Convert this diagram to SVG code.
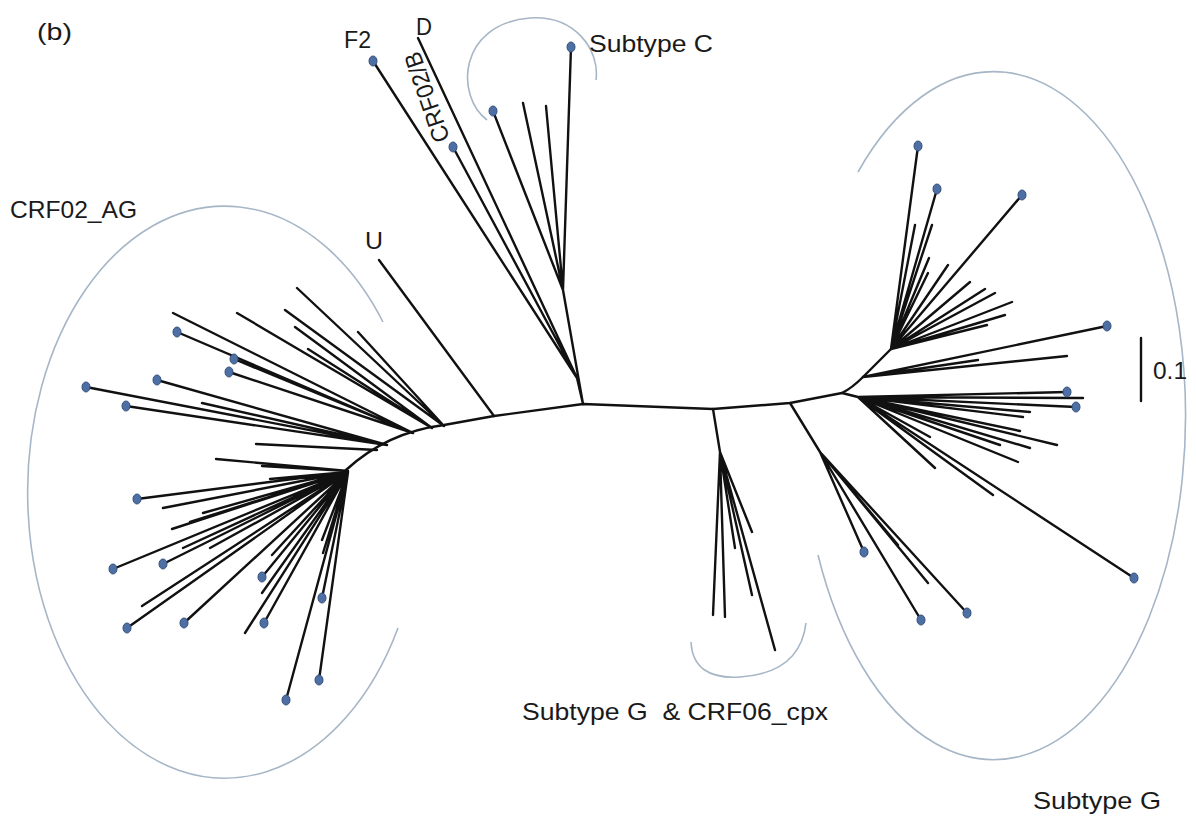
<svg xmlns="http://www.w3.org/2000/svg" width="1196" height="818" viewBox="0 0 1196 818">
<style>
.br{stroke:#111;stroke-width:2.4;fill:none;stroke-linecap:round;stroke-linejoin:round}
.tip{fill:#4d6fa3;stroke:#35507c;stroke-width:1}
.arc{fill:none;stroke:#a6b6c6;stroke-width:1.6}
text{font-family:"Liberation Sans",Arial,sans-serif;font-size:24px;fill:#1a1a1a}
</style>
<rect width="1196" height="818" fill="#fff"/>

<g id="clade-arcs">
  <path class="arc" d="M383 322 A197 286 0 1 0 398 628"/>
  <path class="arc" d="M487 120 C455 96 458 24 530 18 C575 15 600 50 596 80"/>
  <path class="arc" d="M858 172 A192 344 0 1 1 818 555"/>
  <path class="arc" d="M691 642 Q693 680 740 677 Q800 673 806 623"/>
</g>

<g id="connectors">
  <path class="br" d="M346 470 C372 446 405 430 444 425 L494 416 L583 404 L713 409 L790 403 L842 393 Q852 388 863 377 L891 349"/>
  <!-- top cluster: F2, CRF02/B, D, subtype C -->
  <path class="br" d="M583 404 L577 378 M373 61 L577 378 M453 147 L577 378 M418 38 L577 378 M583 404 L563 290 M571 47 L563 290 M546 106 L563 290 M523 103 L563 290 M493 111 L563 290"/>
  <!-- U -->
  <path class="br" d="M379 260 L494 416"/>
  <!-- CRF02_AG upper fan -->
  <path class="br" d="M297 288 L444 426 M285 310 L444 426 M358 332 L444 426 M237 313 L432 428 M295 327 L432 428 M308 349 L432 428 M173 313 L413 433 M177 332 L413 433 M234 359 L413 433 M229 372 L413 433 M86 387 L387 445 M157 380 L387 445 M126 406 L387 445 M202 403 L387 445 M256 444 L377 450 M216 459 L348 471 M262 466 L348 471"/>
  <!-- CRF02_AG lower fan -->
  <path class="br" d="M137 499 L348 472 M163 508 L348 472 M270 479 L348 472 M203 513 L348 472 M172 529 L348 472 M190 522 L348 472 M113 569 L348 472 M163 564 L348 472 M183 548 L348 472 M210 548 L348 472 M142 606 L348 472 M127 628 L348 472 M184 623 L348 472 M272 555 L348 472 M262 577 L348 472 M262 593 L348 472 M245 633 L348 472 M264 623 L348 472 M322 598 L348 472 M323 553 L348 472 M322 540 L348 472 M319 680 L348 472 M286 700 L348 472"/>
  <!-- subtype G top-right fan -->
  <path class="br" d="M918 146 L891 349 M937 189 L891 349 M1022 195 L891 349 M915 225 L891 349 M932 225 L891 349 M929 258 L891 349 M928 273 L891 349 M948 265 L891 349 M970 282 L891 349 M985 289 L891 349 M995 293 L891 349 M1012 302 L891 349 M1005 315 L891 349 M987 325 L891 349 M1107 326 L863 377 M1067 356 L863 377 M978 360 L863 377"/>
  <!-- subtype G lower-right fan -->
  <path class="br" d="M842 393 L858 397 M1067 392 L858 397 M1076 407 L858 397 M1083 398 L858 397 M1030 412 L858 397 M1023 417 L858 397 M1020 431 L858 397 M1057 445 L858 397 M1030 448 L858 397 M1018 462 L858 397 M1000 445 L858 397 M993 495 L858 397 M935 468 L858 397 M930 437 L858 397 M1134 578 L858 397"/>
  <!-- subtype G lower-middle fan -->
  <path class="br" d="M790 403 L820 452 M864 552 L820 452 M921 620 L820 452 M967 613 L820 452 M928 583 L820 452 M898 545 L835 470"/>
  <!-- subtype G & CRF06_cpx fan -->
  <path class="br" d="M713 409 L720 452 M713 615 L720 452 M725 617 L720 452 M735 548 L720 452 M752 532 L720 452 M752 595 L720 452 M775 650 L720 452"/>
  <!-- scale bar -->
  <path class="br" d="M1141 338 L1141 401" stroke-width="1.8"/>
</g>

<g id="tips">
  <ellipse class="tip" cx="373" cy="61" rx="4" ry="5"/>
  <ellipse class="tip" cx="453" cy="147" rx="4" ry="5"/>
  <ellipse class="tip" cx="571" cy="47" rx="4" ry="5"/>
  <ellipse class="tip" cx="493" cy="111" rx="4" ry="5"/>
  <ellipse class="tip" cx="177" cy="332" rx="4" ry="5"/>
  <ellipse class="tip" cx="234" cy="359" rx="4" ry="5"/>
  <ellipse class="tip" cx="229" cy="372" rx="4" ry="5"/>
  <ellipse class="tip" cx="86" cy="387" rx="4" ry="5"/>
  <ellipse class="tip" cx="157" cy="380" rx="4" ry="5"/>
  <ellipse class="tip" cx="126" cy="406" rx="4" ry="5"/>
  <ellipse class="tip" cx="137" cy="499" rx="4" ry="5"/>
  <ellipse class="tip" cx="113" cy="569" rx="4" ry="5"/>
  <ellipse class="tip" cx="163" cy="564" rx="4" ry="5"/>
  <ellipse class="tip" cx="127" cy="628" rx="4" ry="5"/>
  <ellipse class="tip" cx="184" cy="623" rx="4" ry="5"/>
  <ellipse class="tip" cx="262" cy="577" rx="4" ry="5"/>
  <ellipse class="tip" cx="264" cy="623" rx="4" ry="5"/>
  <ellipse class="tip" cx="322" cy="598" rx="4" ry="5"/>
  <ellipse class="tip" cx="319" cy="680" rx="4" ry="5"/>
  <ellipse class="tip" cx="286" cy="700" rx="4" ry="5"/>
  <ellipse class="tip" cx="918" cy="146" rx="4" ry="5"/>
  <ellipse class="tip" cx="937" cy="189" rx="4" ry="5"/>
  <ellipse class="tip" cx="1022" cy="195" rx="4" ry="5"/>
  <ellipse class="tip" cx="1107" cy="326" rx="4" ry="5"/>
  <ellipse class="tip" cx="1067" cy="392" rx="4" ry="5"/>
  <ellipse class="tip" cx="1076" cy="407" rx="4" ry="5"/>
  <ellipse class="tip" cx="1134" cy="578" rx="4" ry="5"/>
  <ellipse class="tip" cx="864" cy="552" rx="4" ry="5"/>
  <ellipse class="tip" cx="921" cy="620" rx="4" ry="5"/>
  <ellipse class="tip" cx="967" cy="613" rx="4" ry="5"/>
</g>

<g id="labels">
  <text x="37" y="40" textLength="35" lengthAdjust="spacingAndGlyphs">(b)</text>
  <text x="344" y="48" textLength="27" lengthAdjust="spacingAndGlyphs">F2</text>
  <text x="416" y="35" textLength="16" lengthAdjust="spacingAndGlyphs">D</text>
  <text transform="translate(450 139) rotate(-109)" textLength="94" lengthAdjust="spacingAndGlyphs">CRF02/B</text>
  <text x="589" y="52" textLength="124" lengthAdjust="spacingAndGlyphs">Subtype C</text>
  <text x="10" y="218" textLength="127" lengthAdjust="spacingAndGlyphs">CRF02_AG</text>
  <text x="365" y="249" textLength="18" lengthAdjust="spacingAndGlyphs">U</text>
  <text x="522" y="720" textLength="306" lengthAdjust="spacingAndGlyphs" style="white-space:pre">Subtype G  &amp; CRF06_cpx</text>
  <text x="1033" y="809" textLength="128" lengthAdjust="spacingAndGlyphs">Subtype G</text>
  <text x="1153" y="379" textLength="34" lengthAdjust="spacingAndGlyphs">0.1</text>
</g>
</svg>
